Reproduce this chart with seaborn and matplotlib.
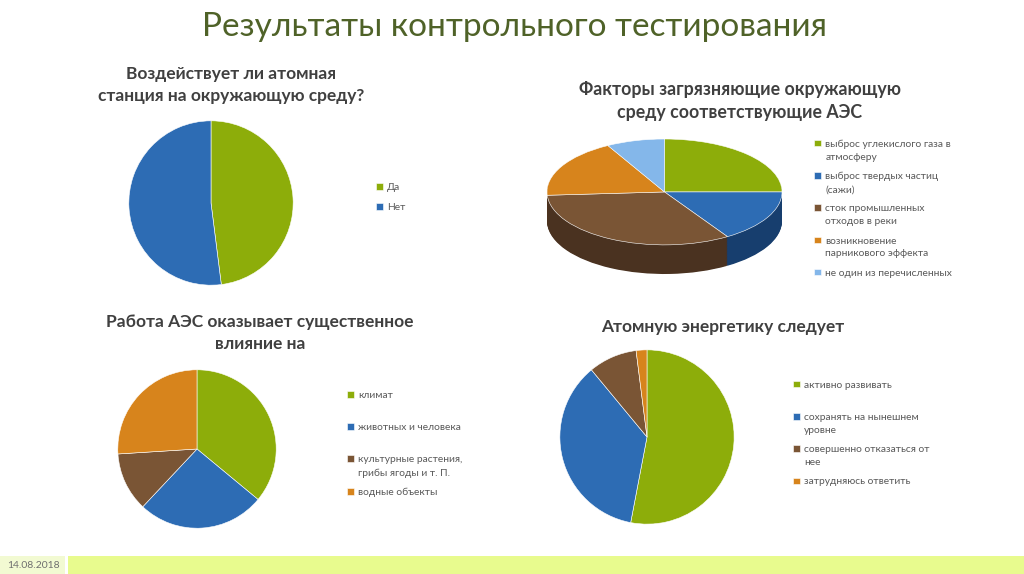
import matplotlib
matplotlib.use("Agg")
import matplotlib.pyplot as plt
import seaborn as sns

sns.set_theme(style="white")
plt.rcParams['font.family'] = ['Lato', 'Open Sans', 'DejaVu Sans']

# ---------------- data ----------------
title_main = "Результаты контрольного тестирования"
date_text = "14.08.2018"

q1_title = "Воздействует ли атомная\nстанция на окружающую среду?"
q1_labels = ["Да", "Нет"]
q1_values = [48, 52]

q2_title = "Факторы загрязняющие окружающую\nсреду соответствующие АЭС"
q2_labels = ["выброс углекислого газа в\nатмосферу", "выброс твердых частиц\n(сажи)",
             "сток промышленных\nотходов в реки", "возникновение\nпарникового эффекта",
             "не один из перечисленных"]
q2_values = [25, 16, 33, 18, 8]

q3_title = "Работа АЭС оказывает существенное\nвлияние на"
q3_labels = ["климат", "животных и человека", "культурные растения,\nгрибы ягоды и т. П.",
             "водные объекты"]
q3_values = [36, 26, 12, 26]

q4_title = "Атомную энергетику следует"
q4_labels = ["активно развивать", "сохранять на нынешнем\nуровне",
             "совершенно отказаться от\nнее", "затрудняюсь ответить"]
q4_values = [53, 36, 9, 2]

palette = ["#8DAD0A", "#2D6CB4", "#7A5535", "#D7841C", "#84B7EA"]
side_palette = ["#5C7206", "#173E6E", "#4A3220", "#8E5610", "#5580A8"]

W, H = 1024, 574
fig = plt.figure(figsize=(W / 100, H / 100), dpi=100)
fig.patch.set_facecolor("white")


def box(x0, y0, x1, y1):
    return [x0 / W, 1 - y1 / H, (x1 - x0) / W, (y1 - y0) / H]


def fx(x):
    return x / W


def fy(y):
    return 1 - y / H


TITLE_C = "#404040"
LEG_C = "#595959"
LEG_FS = 7.4

# main title
fig.text(fx(515), fy(27), title_main, ha="center", va="center", fontsize=24,
         color="#4F6228")


def add_legend(ax, handles, labels, leg_xy, lab_sp, pad_lines=True):
    labs = [l if ("\n" in l or not pad_lines) else l + "\n" for l in labels]
    leg = ax.legend(handles, labs, loc="upper left",
                    bbox_to_anchor=(fx(leg_xy[0]), fy(leg_xy[1])),
                    bbox_transform=fig.transFigure, frameon=False, fontsize=LEG_FS,
                    handlelength=0.65, handleheight=0.65, handletextpad=0.45,
                    labelspacing=lab_sp, borderpad=0, borderaxespad=0,
                    labelcolor=LEG_C)
    for t in leg.get_texts():
        t.set_linespacing(1.55)
    try:
        for col in leg._legend_handle_box.get_children():
            for row in col.get_children():
                row.align = "top"
    except Exception:
        pass
    return leg


def flat_pie(cx, cy, r, values, labels, leg_xy, lab_sp, pad_lines=True):
    ax = fig.add_axes(box(cx - r, cy - r, cx + r, cy + r))
    wedges, _ = ax.pie(values, colors=palette[:len(values)], startangle=90,
                       counterclock=False, radius=1,
                       wedgeprops=dict(linewidth=0.4, edgecolor="white"))
    ax.set_xlim(-1.01, 1.01)
    ax.set_ylim(-1.01, 1.01)
    ax.axis("off")
    add_legend(ax, wedges, labels, leg_xy, lab_sp, pad_lines)
    return ax


# Pie 1
fig.text(fx(231), fy(85), q1_title, ha="center", va="center", fontsize=12.5,
         fontweight="bold", color=TITLE_C, linespacing=1.45)
flat_pie(211, 203, 83, q1_values, q1_labels, (376, 183), 1.1, pad_lines=False)

# Pie 3
fig.text(fx(260), fy(333), q3_title, ha="center", va="center", fontsize=12.5,
         fontweight="bold", color=TITLE_C, linespacing=1.4)
flat_pie(197, 449, 80, q3_values, q3_labels, (347, 391), 1.0)

# Pie 4
fig.text(fx(723), fy(327), q4_title, ha="center", va="center", fontsize=12.5,
         fontweight="bold", color=TITLE_C)
flat_pie(647, 437, 88, q4_values, q4_labels, (793, 380.5), 1.02)

# Pie 2 (3D look)
fig.text(fx(740), fy(101), q2_title, ha="center", va="center", fontsize=12.8,
         fontweight="bold", color=TITLE_C, linespacing=1.45)
ax2 = fig.add_axes(box(547, 139, 782, 274))
depth = 0.55
n_layers = 40
for k in range(n_layers, 0, -1):
    ax2.pie(q2_values, colors=side_palette, startangle=90, counterclock=False,
            radius=1, center=(0, -depth * k / n_layers),
            wedgeprops=dict(linewidth=0))
wedges2, _ = ax2.pie(q2_values, colors=palette, startangle=90, counterclock=False,
                     radius=1, center=(0, 0),
                     wedgeprops=dict(linewidth=0.4, edgecolor="white"))
ax2.set_aspect("auto")
ax2.set_xlim(-1.0, 1.0)
ax2.set_ylim(-1 - depth, 1.0)
ax2.axis("off")
add_legend(ax2, wedges2, q2_labels, (814, 139.5), 1.0)

# bottom band
axb = fig.add_axes([0, 0, 1, 1], zorder=-1)
axb.set_xlim(0, W)
axb.set_ylim(H, 0)
axb.axis("off")
axb.add_patch(plt.Rectangle((0, 556), 65, 18, color="#F2FAD2", lw=0))
axb.add_patch(plt.Rectangle((68, 556), W - 68, 18, color="#E8FB8E", lw=0))
fig.text(fx(60), fy(566), date_text, ha="right", va="center", fontsize=7.5,
         color="#6F6F6F")

fig.savefig("out.png", dpi=100)
